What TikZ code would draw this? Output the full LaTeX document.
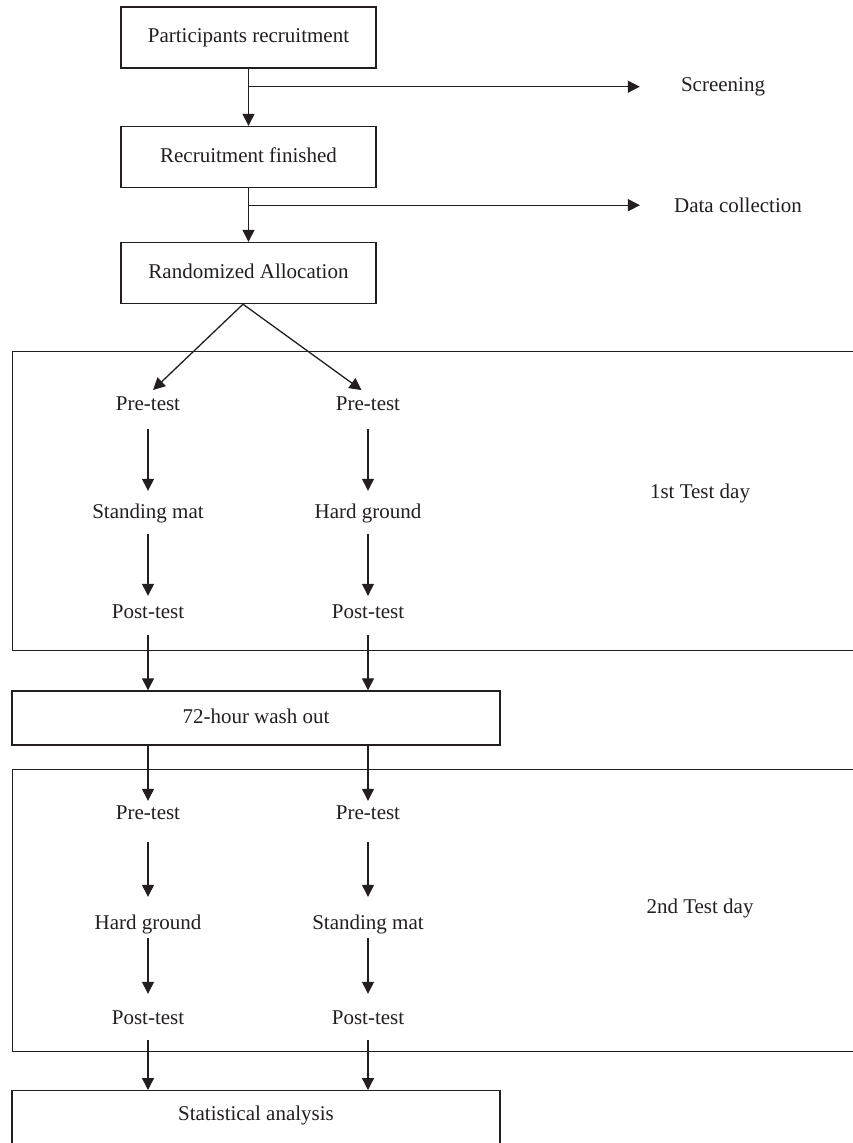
\documentclass[tikz,border=0pt]{standalone}
\usepackage{fontspec}
\setmainfont{Liberation Serif}
\usetikzlibrary{arrows.meta,calc}
\definecolor{ink}{HTML}{231F20}
\begin{document}
\begin{tikzpicture}[x=1pt,y=-1pt,
  every node/.style={font=\fontsize{21}{25}\selectfont, text=ink},
  lbl/.style={inner sep=0pt, text height=15pt, text depth=5pt},
  box/.style={draw=ink, line width=1.4pt, lbl},
  frame/.style={draw=ink, line width=1.4pt, inner sep=0pt, anchor=north west},
  arr/.style={draw=ink, line width=1.3pt, -{Triangle[length=12pt,width=12pt]}}
]
\clip (0,0) rectangle (853,1143);
\fill[white] (0,0) rectangle (853,1143);

% top boxes
\node[box, minimum width=255pt, minimum height=61pt] (recruit) at (248.5,37.5) {Participants recruitment};
\node[box, minimum width=255pt, minimum height=61pt] (finish) at (248.5,157) {Recruitment finished};
\node[box, minimum width=255pt, minimum height=61pt] (rand) at (248.5,273) {Randomized Allocation};

\node[lbl] (screen) at (723,86) {Screening};
\node[lbl] (dc) at (738,207) {Data collection};

\coordinate (br1) at ($(recruit.south)+(0,18)$);
\coordinate (br2) at ($(finish.south)+(0,17)$);
\draw[arr] (recruit.south) -- (finish.north);
\draw[arr] (finish.south) -- (rand.north);
\draw[arr, shorten >=41pt] (br1) -- (br1 -| screen.west);
\draw[arr, shorten >=34pt] (br2) -- (br2 -| dc.west);

% day frames
\node[frame, minimum width=900pt, minimum height=299pt] (day1) at (12,351) {};
\node[frame, minimum width=900pt, minimum height=282pt] (day2) at (12,769) {};
\node[lbl] (lab1) at (700,493) {1st Test day};
\node[lbl] (lab2) at (700,908) {2nd Test day};

% day 1
\node[lbl] (pre1L) at (148,405) {Pre-test};
\node[lbl] (pre1R) at (368,405) {Pre-test};
\node[lbl] (mid1L) at (148,513) {Standing mat};
\node[lbl] (mid1R) at (368,513) {Hard ground};
\node[lbl] (post1L) at (148,613) {Post-test};
\node[lbl] (post1R) at (368,613) {Post-test};

\coordinate (apex) at ($(rand.south)+(-5.5,0)$);
\draw[arr, shorten >=7pt] (apex) -- (pre1L.north);
\draw[arr, shorten >=8pt] (apex) -- (pre1R.north);

\foreach \c in {L,R}{
  \draw[arr, shorten <=14pt, shorten >=12pt] (pre1\c.south) -- (mid1\c.north);
  \draw[arr, shorten <=11pt, shorten >=7pt] (mid1\c.south) -- (post1\c.north);
}

% washout
\node[box, minimum width=488pt, minimum height=54pt] (wash) at (256,718) {72-hour wash out};
\foreach \c in {L,R}{
  \draw[arr, shorten <=12pt] (post1\c.south) -- (post1\c |- wash.north);
}

% day 2
\node[lbl] (pre2L) at (148,814) {Pre-test};
\node[lbl] (pre2R) at (368,814) {Pre-test};
\node[lbl] (mid2L) at (148,924) {Hard ground};
\node[lbl] (mid2R) at (368,924) {Standing mat};
\node[lbl] (post2L) at (148,1019) {Post-test};
\node[lbl] (post2R) at (368,1019) {Post-test};

\foreach \c in {L,R}{
  \draw[arr, shorten >=3pt] (wash.south -| pre2\c.north) -- (pre2\c.north);
  \draw[arr, shorten <=18pt, shorten >=17pt] (pre2\c.south) -- (mid2\c.north);
  \draw[arr, shorten <=4pt, shorten >=15pt] (mid2\c.south) -- (post2\c.north);
}

% statistics
\node[box, anchor=north, minimum width=488pt, inner xsep=0pt, inner ysep=15pt, text depth=45pt] (stats) at (256,1090) {Statistical analysis};
\foreach \c in {L,R}{
  \draw[arr, shorten <=11pt] (post2\c.south) -- (post2\c |- stats.north);
}
\end{tikzpicture}
\end{document}
